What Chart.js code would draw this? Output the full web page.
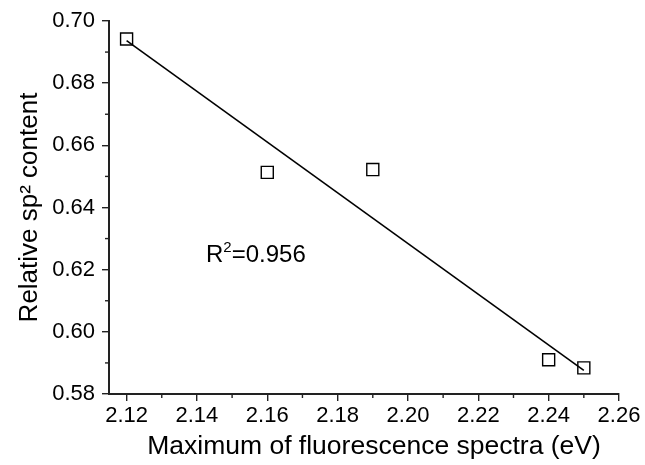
<!DOCTYPE html>
<html>
<head>
<meta charset="utf-8">
<script src="https://cdn.jsdelivr.net/npm/chart.js@4"></script>
<style>
  html, body { margin: 0; padding: 0; background: #fff; }
  #wrap { width: 645px; height: 465px; }
</style>
</head>
<body>
<div id="wrap"><canvas id="scatter-chart" width="645" height="465"></canvas></div>
<script>
// data
var energy = [2.12, 2.16, 2.19, 2.24, 2.25];
var sp2 = [0.6942, 0.6513, 0.6522, 0.5910, 0.5884];
// fitted line end points
var fitX = [2.12, 2.25];
var fitY = [0.6937, 0.5876];
var xTicks = [2.12, 2.14, 2.16, 2.18, 2.20, 2.22, 2.24, 2.26];
var yTicks = [0.58, 0.60, 0.62, 0.64, 0.66, 0.68, 0.70];
var fitLabel = "0.956";
var xTitle = "Maximum of fluorescence spectra (eV)";

var font = "'Liberation Sans', Arial, sans-serif";

// minor ticks, x title, R^2 note
var extras = {
  id: 'extras',
  afterDraw: function(chart) {
    var ctx = chart.ctx;
    var xs = chart.scales.x, ys = chart.scales.y;
    ctx.save();
    ctx.strokeStyle = '#222';
    ctx.lineWidth = 1.4;
    for (var i = 0; i < xTicks.length - 1; i++) {
      var px = xs.getPixelForValue((xTicks[i] + xTicks[i + 1]) / 2);
      ctx.beginPath(); ctx.moveTo(px, ys.bottom); ctx.lineTo(px, ys.bottom + 4); ctx.stroke();
    }
    for (var j = 0; j < yTicks.length - 1; j++) {
      var py = ys.getPixelForValue((yTicks[j] + yTicks[j + 1]) / 2);
      ctx.beginPath(); ctx.moveTo(xs.left, py); ctx.lineTo(xs.left - 4, py); ctx.stroke();
    }
    ctx.fillStyle = '#000';
    // x axis title
    ctx.font = '26.5px ' + font;
    ctx.textAlign = 'center';
    ctx.textBaseline = 'middle';
    ctx.fillText(xTitle, 374, 447);
    // R^2 text
    var tx = 206, ty = 262;
    ctx.textAlign = 'left';
    ctx.textBaseline = 'alphabetic';
    ctx.font = '24px ' + font;
    ctx.fillText('R', tx, ty);
    var w = ctx.measureText('R').width;
    ctx.font = '15px ' + font;
    ctx.fillText('2', tx + w, ty - 10);
    var w2 = ctx.measureText('2').width;
    ctx.font = '24px ' + font;
    ctx.fillText('=' + fitLabel, tx + w + w2, ty);
    ctx.restore();
  }
};

new Chart(document.getElementById("scatter-chart"), {
  type: 'scatter',
  data: {
    datasets: [
      {
        label: "fit",
        data: fitX.map(function(x, i) { return { x: x, y: fitY[i] }; }),
        showLine: true,
        borderColor: "#000",
        borderWidth: 1.6,
        pointRadius: 0,
        fill: false
      },
      {
        label: "sp2",
        data: energy.map(function(x, i) { return { x: x, y: sp2[i] }; }),
        pointStyle: 'rect',
        pointRadius: 8.5,
        pointBackgroundColor: "#fff",
        pointBorderColor: "#000",
        pointBorderWidth: 1.4
      }
    ]
  },
  options: {
    responsive: false,
    animation: false,
    layout: { padding: { left: 0, right: 26, top: 21, bottom: 0 } },
    plugins: {
      legend: { display: false },
      tooltip: { enabled: false }
    },
    scales: {
      x: {
        type: 'linear',
        min: 2.115,
        max: 2.26,
        afterBuildTicks: function(scale) {
          scale.ticks = xTicks.map(function(v) { return { value: v }; });
        },
        afterFit: function(scale) { scale.height = 71; },
        border: { display: true, color: '#222', width: 2 },
        grid: { drawOnChartArea: false, drawTicks: true, tickLength: 7, color: '#222', lineWidth: 1.4 },
        ticks: {
          color: '#000',
          padding: 2,
          maxRotation: 0,
          font: { family: font, size: 22 },
          callback: function(v) { return v.toFixed(2); }
        },
        title: { display: false }
      },
      y: {
        type: 'linear',
        min: 0.58,
        max: 0.70,
        afterBuildTicks: function(scale) {
          scale.ticks = yTicks.map(function(v) { return { value: v }; });
        },
        afterFit: function(scale) { scale.width = 109; },
        border: { display: true, color: '#222', width: 2 },
        grid: { drawOnChartArea: false, drawTicks: true, tickLength: 7, color: '#222', lineWidth: 1.4 },
        ticks: {
          color: '#000',
          padding: 7,
          font: { family: font, size: 22 },
          callback: function(v) { return v.toFixed(2); }
        },
        title: {
          display: true,
          text: 'Relative sp\u00B2 content',
          color: '#000',
          font: { family: font, size: 26 },
          padding: { top: 14, bottom: 0 }
        }
      }
    }
  },
  plugins: [extras]
});
</script>
</body>
</html>
